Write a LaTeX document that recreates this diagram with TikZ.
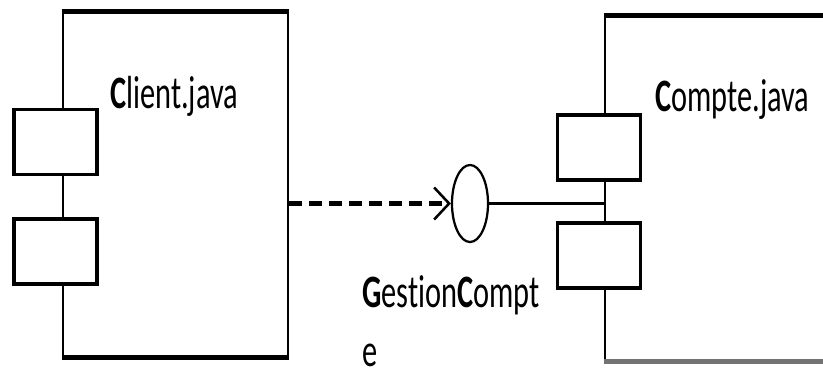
\documentclass[tikz,border=0pt]{standalone}
\usepackage{fontspec}
\setmainfont{Carlito}[Ligatures={NoCommon}]
\usetikzlibrary{arrows.meta,shapes.geometric}

\tikzset{
  body/.style={draw, line width=1.8pt, minimum width=5.625cm, minimum height=8.6cm, inner sep=0},
  port/.style={draw, fill=white, line width=2.2pt, minimum width=2.075cm, minimum height=1.625cm, inner sep=0},
  lbl/.style={font=\fontsize{33}{38}\selectfont, xscale=0.655, inner sep=0}
}

\begin{document}
\begin{tikzpicture}[x=0.025cm, y=-0.025cm]
\useasboundingbox (0,0) rectangle (823,375);
\clip (0,0) rectangle (823,375);

% Client.java
\node [body] (client) at (175.5,184.5) {};
\draw [line width=3.4pt] (client.north west)--(client.north east);
\draw [line width=2.6pt] (client.south west)--(client.south east);
\node [port] (cport1) at (55.5,142) {};
\node [port] (cport2) at (55.5,251.5) {};
\node [lbl, anchor=base west] (cname) at (110,108) {\textbf{C}lient.java};

% Compte.java
\node [body, minimum width=7.5cm] (compte) at (755,188.5) {};
\draw [line width=3.4pt] (compte.north west)--(compte.north east);
\draw [line width=3.6pt, black!55] (compte.south west)--(compte.south east);
\node [port] (kport1) at (599,147.5) {};
\node [port] (kport2) at (599,255.5) {};
\node [lbl, anchor=base west] (kname) at (655,111) {\textbf{C}ompte.java};

% GestionCompte
\node [draw, ellipse, line width=1.6pt, minimum width=0.9cm, minimum height=1.925cm, inner sep=0] (iface) at (470,203.5) {};
\node [lbl, anchor=base west, align=left] (iname) at (362,366) {\textbf{G}estion\textbf{C}ompt\\[0.13cm]e};

\draw [line width=3pt, dash pattern=on 0.325cm off 0.175cm, -{Straight Barb[length=0.375cm, width=0.8cm, line width=1.8pt]}]
  (client.east |- iface.west)--(iface.west);
\draw [line width=1.6pt] (iface.east)--(compte.west |- iface.east);
\end{tikzpicture}
\end{document}
